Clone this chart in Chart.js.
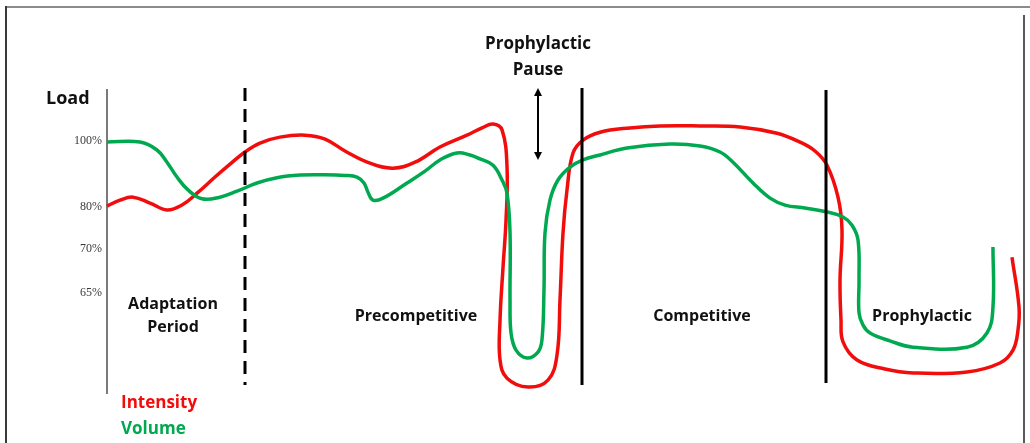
<!DOCTYPE html>
<html>
<head>
<meta charset="utf-8">
<script src="https://cdn.jsdelivr.net/npm/chart.js@4.4.1/dist/chart.umd.min.js"></script>
<style>
  html, body { margin: 0; padding: 0; background: #ffffff; }
  #wrap { position: relative; width: 1030px; height: 443px; }
  canvas { display: block; }
</style>
</head>
<body>
<div id="wrap"><canvas id="c" width="1030" height="443"></canvas></div>
<script>
// ---- Data (x: time in arbitrary units, y: load level) ----
const intensityX = [0, 1.43, 2.86, 4.73, 6.59, 8.24, 9.89, 11.87, 13.52, 15.16, 16.81, 19.0, 21.76, 23.96, 26.15, 28.90, 31.43, 33.85, 36.59, 39.56, 41.21, 42.42, 43.41, 43.96, 43.85, 43.52, 43.19, 43.19, 43.96, 46.26, 48.46, 49.45, 49.78, 50.11, 50.55, 51.21, 52.31, 54.18, 57.47, 60.77, 65.16, 69.56, 73.63, 76.15, 77.80, 79.12, 80.33, 80.77, 80.55, 80.66, 80.88, 82.42, 85.49, 88.57, 94.51, 98.13, 99.56, 100.11, 100.22, 99.45];
const intensityY = [80.3, 82.1, 83.0, 81.2, 79.1, 80.6, 84.2, 89.1, 93.0, 96.7, 99.4, 101.2, 101.8, 100.6, 97.0, 93.3, 91.8, 93.6, 98.2, 101.8, 104.0, 105.2, 103.4, 92.1, 76.1, 61.8, 45.7, 33.6, 28.1, 25.4, 27.5, 35.1, 51.8, 72.1, 85.2, 96.4, 100.3, 102.7, 104.0, 104.6, 104.6, 104.3, 102.4, 99.7, 97.0, 92.7, 83.0, 73.0, 57.9, 45.7, 39.1, 33.6, 30.9, 29.7, 30.0, 32.7, 36.6, 42.7, 49.7, 64.8];

const volumeX = [0, 3.63, 5.49, 6.59, 7.69, 8.90, 10.44, 12.31, 14.29, 16.48, 18.68, 21.21, 23.74, 26.15, 27.47, 28.24, 28.68, 29.23, 30.33, 32.97, 34.95, 36.59, 38.46, 39.89, 40.99, 42.42, 43.41, 43.96, 44.29, 44.29, 44.40, 44.95, 46.15, 47.36, 47.80, 48.02, 48.13, 48.68, 49.56, 50.88, 52.31, 54.18, 57.14, 61.87, 65.16, 67.36, 68.79, 70.99, 72.86, 74.51, 76.70, 79.12, 80.88, 81.87, 82.53, 82.64, 82.64, 83.08, 83.85, 86.04, 88.57, 94.51, 96.70, 97.36, 97.36];
const volumeY = [99.7, 99.7, 97.3, 93.6, 89.1, 85.2, 82.5, 82.9, 84.8, 87.3, 88.9, 89.7, 89.8, 89.6, 89.1, 87.3, 84.5, 82.1, 82.7, 87.3, 90.9, 94.3, 96.4, 95.8, 94.6, 92.7, 88.2, 84.2, 72.1, 51.8, 41.8, 36.6, 34.2, 36.0, 39.7, 54.8, 72.1, 82.1, 88.2, 92.1, 94.3, 95.8, 97.9, 99.1, 98.5, 96.7, 93.6, 87.3, 82.7, 80.6, 79.7, 78.5, 77.0, 74.5, 70.0, 57.9, 47.9, 44.2, 41.8, 39.4, 37.5, 37.5, 41.8, 49.7, 67.9];

const tickValues = [100, 80, 67.3, 53.9];
const tickLabels = ['100%', '80%', '70%', '65%'];

const phaseBoundaries = [15.2, 52.2, 79.0];
const phaseNames = ['Adaptation\nPeriod', 'Precompetitive', 'Competitive', 'Prophylactic'];
const pauseArrowX = 47.36;

const seriesNames = ['Intensity', 'Volume'];
const RED = '#f20d0d';
const GREEN = '#00a94f';

const toPoints = (xs, ys) => xs.map((x, i) => ({ x: x, y: ys[i] }));

const BOLD = '"Open Sans", Lato, sans-serif';

const decorPlugin = {
  id: 'decor',
  beforeDraw(chart) {
    const ctx = chart.ctx;
    ctx.save();
    ctx.fillStyle = '#ffffff';
    ctx.fillRect(0, 0, chart.width, chart.height);
    ctx.lineWidth = 2;
    ctx.strokeStyle = '#8c8c8c';
    ctx.beginPath(); ctx.moveTo(5, 7); ctx.lineTo(1030, 7); ctx.stroke();
    ctx.strokeStyle = '#3a3a3a';
    ctx.beginPath(); ctx.moveTo(6, 6); ctx.lineTo(6, 443); ctx.stroke();
    ctx.lineWidth = 1.5;
    ctx.strokeStyle = '#222';
    ctx.beginPath(); ctx.moveTo(1024, 15); ctx.lineTo(1024, 443); ctx.stroke();
    ctx.restore();
  },
  afterDatasetsDraw(chart) {
    const ctx = chart.ctx;
    const xs = chart.scales.x, ys = chart.scales.y;
    ctx.save();
    const top = ys.getPixelForValue(116.1);
    const bot = ys.getPixelForValue(26.0);
    phaseBoundaries.forEach((v, i) => {
      const px = Math.round(xs.getPixelForValue(v));
      ctx.strokeStyle = '#000';
      ctx.lineWidth = 3;
      ctx.setLineDash(i === 0 ? [13, 8] : []);
      ctx.beginPath();
      ctx.moveTo(px, i === 2 ? top + 2 : top);
      ctx.lineTo(px, i === 2 ? bot - 2 : bot);
      ctx.stroke();
    });
    ctx.setLineDash([]);
    const ax = xs.getPixelForValue(pauseArrowX);
    const ay1 = ys.getPixelForValue(116.1), ay2 = ys.getPixelForValue(94.3);
    ctx.strokeStyle = '#000'; ctx.fillStyle = '#000'; ctx.lineWidth = 2;
    ctx.beginPath(); ctx.moveTo(ax, ay1 + 5); ctx.lineTo(ax, ay2 - 5); ctx.stroke();
    ctx.beginPath(); ctx.moveTo(ax, ay1); ctx.lineTo(ax - 4, ay1 + 8); ctx.lineTo(ax + 4, ay1 + 8); ctx.closePath(); ctx.fill();
    ctx.beginPath(); ctx.moveTo(ax, ay2); ctx.lineTo(ax - 4, ay2 - 8); ctx.lineTo(ax + 4, ay2 - 8); ctx.closePath(); ctx.fill();

    ctx.textBaseline = 'middle';
    ctx.fillStyle = '#111';
    ctx.font = 'bold 18px ' + BOLD;
    ctx.textAlign = 'left';
    ctx.fillText('Load', 46, 99);
    ctx.font = 'bold 17px ' + BOLD;
    ctx.textAlign = 'center';
    ctx.fillText('Prophylactic', 538, 44);
    ctx.fillText('Pause', 538, 70);

    ctx.font = 'bold 16px ' + BOLD;
    const labelPos = [[173, 304], [416, 316], [702, 316], [922, 316]];
    phaseNames.forEach((name, i) => {
      const lines = name.split('\n');
      lines.forEach((ln, j) => ctx.fillText(ln, labelPos[i][0], labelPos[i][1] + j * 23));
    });

    ctx.font = 'bold 17px ' + BOLD;
    ctx.textAlign = 'left';
    ctx.fillStyle = RED;
    ctx.fillText(seriesNames[0], 121, 403);
    ctx.fillStyle = GREEN;
    ctx.fillText(seriesNames[1], 121, 429);
    ctx.restore();
  }
};

new Chart(document.getElementById('c'), {
  type: 'scatter',
  data: {
    datasets: [
      {
        label: seriesNames[1],
        data: toPoints(volumeX, volumeY),
        showLine: true,
        borderColor: GREEN,
        borderWidth: 3.5,
        pointRadius: 0,
        tension: 0.4,
        clip: false
      },
      {
        label: seriesNames[0],
        data: toPoints(intensityX, intensityY),
        showLine: true,
        borderColor: RED,
        borderWidth: 3.5,
        pointRadius: 0,
        tension: 0.4,
        clip: false
      }
    ]
  },
  options: {
    responsive: false,
    animation: false,
    devicePixelRatio: 1,
    layout: { padding: { left: 7, right: 13, top: 90, bottom: 50 } },
    plugins: { legend: { display: false }, tooltip: { enabled: false } },
    scales: {
      x: { type: 'linear', min: 0, max: 100, display: false },
      y: {
        type: 'linear',
        min: 23.6,
        max: 115.5,
        grid: { display: false, drawTicks: false, tickLength: 0 },
        border: { display: true, color: '#7a7a7a', width: 2 },
        afterFit(s) { s.width = 100; },
        afterBuildTicks(s) { s.ticks = tickValues.map(v => ({ value: v })); },
        ticks: {
          padding: 5,
          color: '#3a3a3a',
          font: { family: '"Liberation Serif", "DejaVu Serif", serif', size: 12 },
          callback: (v) => {
            const i = tickValues.indexOf(v);
            return i >= 0 ? tickLabels[i] : '';
          }
        }
      }
    }
  },
  plugins: [decorPlugin]
});
</script>
</body>
</html>
